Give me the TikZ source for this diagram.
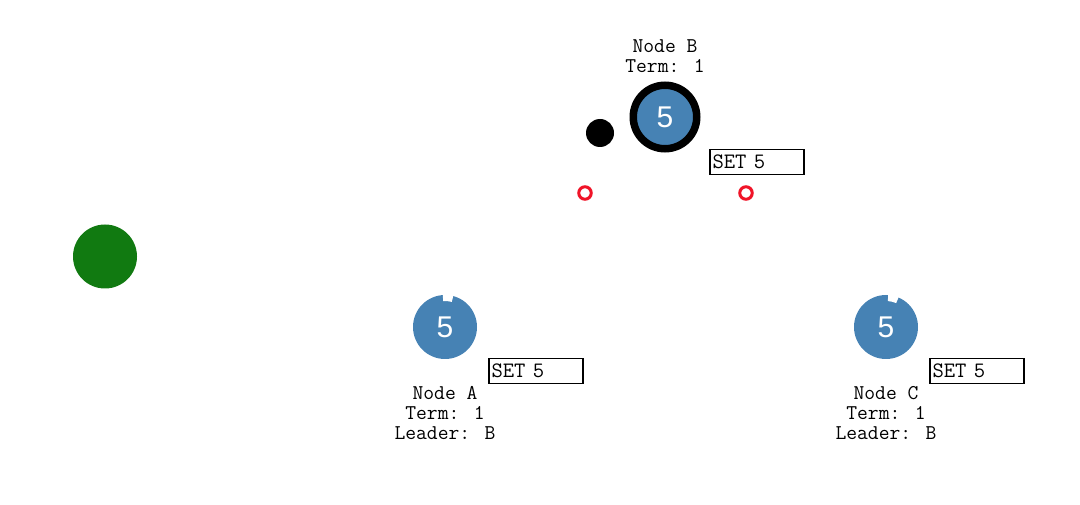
\documentclass[tikz,border=0pt]{standalone}
\usepackage{fontspec}
\newfontfamily\numfont{Liberation Sans}
\usetikzlibrary{positioning}
\definecolor{steel}{RGB}{70,130,180}
\definecolor{leafgreen}{RGB}{17,122,17}
\definecolor{alarm}{RGB}{240,20,40}
\tikzset{server/.style = {circle,fill=steel,minimum size=64pt,inner sep=0pt,text=white,
                          font=\numfont\fontsize{30}{30}\selectfont},
         setbox/.style = {draw,line width=1.5pt,minimum height=25pt,text width=89pt,
                          inner xsep=2.5pt,inner ysep=0pt,align=left,font=\ttfamily\fontsize{22}{22}\selectfont},
         info/.style = {align=center,inner sep=0pt,font=\ttfamily\fontsize{21}{20}\selectfont},
         dot/.style = {circle,fill=black,minimum size=28pt,inner sep=0pt},
         ping/.style = {circle,draw=alarm,line width=3pt,fill=white,minimum size=12.5pt,inner sep=0pt}}

\begin{document}
\begin{tikzpicture}[x=1pt,y=-1pt]
    \useasboundingbox (0,0) rectangle (1080,505);

    % client
    \node [circle,fill=leafgreen,minimum size=64pt,inner sep=0pt] (client) at (105,256.5) {};

    % leader
    \node [server,minimum size=63.5pt,draw=black,line width=7.5pt] (B) at (665,117) {5};
    \node [info] (infoB) at (665,56.5) {Node B\\Term: 1};
    \node [dot] (msg) at (600,133) {};
    \node [setbox] (setB) at (757,162) {SET 5};
    \node [ping] (pingA) at (585,193) {};
    \node [ping] (pingC) at (746,193) {};

    % followers
    \node [server] (A) at (445,327) {5};
    \node [info] (infoA) at (445,413) {Node A\\Term: 1\\Leader: B};
    \node [setbox] (setA) at (536,371) {SET 5};

    \node [server] (C) at (886,327) {5};
    \node [info] (infoC) at (886,413) {Node C\\Term: 1\\Leader: B};
    \node [setbox] (setC) at (977,371) {SET 5};

    % election timers
    \fill [white,shift={(A.center)}] (-75:26) -- (-75:33) arc [start angle=-75, end angle=-94, radius=33]
          -- (-94:26) arc [start angle=-94, end angle=-75, radius=26] -- cycle;
    \fill [white,shift={(C.center)}] (-67:26) -- (-67:33) arc [start angle=-67, end angle=-86, radius=33]
          -- (-86:26) arc [start angle=-86, end angle=-67, radius=26] -- cycle;
\end{tikzpicture}
\end{document}
